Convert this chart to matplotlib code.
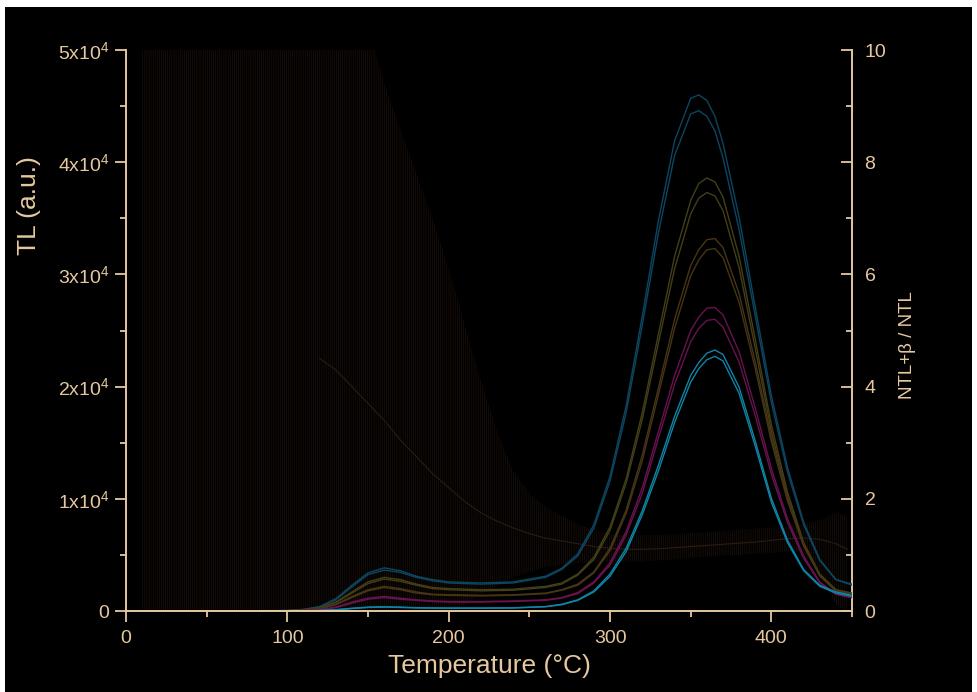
import matplotlib
matplotlib.use("Agg")
import matplotlib.pyplot as plt
import numpy as np
from matplotlib.patches import Rectangle

# temperature grid for the glow curves (°C)
temp = [0, 50, 100, 110, 120, 130, 140, 150, 160, 170, 180, 190, 200, 220, 240,
        260, 270, 280, 290, 300, 310, 320, 330, 340, 350, 355, 360, 365, 370,
        380, 390, 400, 410, 420, 430, 440, 450]

# TL glow curves, two aliquots per dose group (a.u.)
teal_a = [0, 0, 50, 150, 400, 1100, 2300, 3400, 3850, 3600, 3100, 2800, 2600, 2500, 2600,
          3100, 3800, 5100, 7700, 12000, 18300, 26300, 34800, 41900, 45700, 46000, 45500,
          44100, 41700, 35100, 27100, 19200, 12800, 7900, 4600, 2800, 2400]
teal_b = [0, 0, 40, 130, 350, 1000, 2150, 3250, 3650, 3450, 3000, 2700, 2500, 2400, 2500,
          3000, 3700, 4900, 7400, 11600, 17700, 25500, 33700, 40600, 44300, 44600, 44100,
          42800, 40400, 34000, 26300, 18600, 12400, 7700, 4500, 2800, 2300]
olive_a = [0, 0, 30, 100, 300, 800, 1700, 2600, 3000, 2800, 2400, 2100, 2000, 1900, 1950,
           2200, 2500, 3300, 4800, 7500, 11800, 17700, 24700, 31600, 36600, 38100, 38600,
           38250, 36900, 31600, 24200, 16600, 10600, 6100, 3300, 1900, 1600]
olive_b = [0, 0, 25, 90, 270, 750, 1600, 2450, 2850, 2650, 2300, 2000, 1900, 1800, 1850,
           2100, 2400, 3200, 4600, 7200, 11400, 17100, 23900, 30500, 35400, 36800, 37300,
           37000, 35700, 30600, 23400, 16000, 10200, 5900, 3200, 1900, 1500]
brown_a = [0, 0, 20, 80, 200, 600, 1300, 1900, 2200, 2000, 1700, 1500, 1450, 1400, 1450,
           1600, 1900, 2400, 3500, 5600, 9000, 13900, 19900, 26000, 30800, 32200, 33100,
           33200, 32400, 28300, 22200, 15500, 10100, 6000, 3200, 1800, 1400]
brown_b = [0, 0, 15, 70, 180, 550, 1200, 1800, 2100, 1900, 1600, 1450, 1400, 1350, 1400,
           1550, 1850, 2300, 3400, 5400, 8700, 13400, 19300, 25200, 29900, 31300, 32200,
           32300, 31500, 27500, 21600, 15100, 9800, 5800, 3100, 1800, 1400]
magenta_a = [0, 0, 10, 50, 120, 350, 800, 1150, 1300, 1150, 1000, 900, 850, 850, 900,
             1000, 1200, 1650, 2600, 4300, 7100, 11000, 16000, 21000, 25000, 26200, 27000,
             27050, 26400, 23100, 18100, 12700, 8200, 4900, 2600, 1500, 1200]
magenta_b = [0, 0, 10, 40, 100, 300, 700, 1050, 1200, 1050, 950, 850, 800, 800, 850,
             950, 1150, 1550, 2500, 4100, 6800, 10500, 15400, 20200, 24000, 25200, 25900,
             26000, 25300, 22200, 17400, 12200, 7900, 4700, 2500, 1500, 1200]
cyan_a = [0, 0, 0, 20, 50, 120, 250, 350, 380, 350, 300, 280, 270, 270, 290,
          400, 600, 1000, 1800, 3300, 5600, 8950, 13000, 17350, 21000, 22150, 22980,
          23260, 22870, 19940, 15150, 10040, 6300, 3700, 2300, 1700, 1400]
cyan_b = [0, 0, 0, 15, 40, 100, 220, 320, 350, 320, 280, 260, 250, 250, 270,
          380, 560, 950, 1700, 3100, 5300, 8600, 12500, 16800, 20400, 21600, 22400,
          22700, 22300, 19400, 14700, 9700, 6100, 3600, 2200, 1600, 1300]

# NTL+beta / NTL ratio with its error envelope
ratio_t = [10, 20, 30, 40, 50, 60, 70, 80, 90, 100, 110, 120, 130, 140, 150, 160, 170,
           180, 190, 200, 210, 220, 230, 240, 250, 260, 270, 280, 290, 300, 310, 320,
           330, 340, 350, 360, 370, 380, 390, 400, 410, 420, 430, 440, 447]
ratio_mid = [np.nan] * 11 + [4.5, 4.3, 4.0, 3.7, 3.4, 3.05, 2.75, 2.45, 2.2, 1.95, 1.75,
                             1.6, 1.48, 1.38, 1.3, 1.25, 1.2, 1.15, 1.12, 1.1, 1.1, 1.11,
                             1.13, 1.15, 1.17, 1.19, 1.21, 1.23, 1.26, 1.29, 1.3, 1.28,
                             1.2, 1.1]
ratio_hi = [10.5] * 15 + [9.4, 8.6, 7.8, 7.0, 6.1, 5.1, 4.1, 3.2, 2.5, 2.1, 1.85, 1.7,
                          1.55, 1.45, 1.38, 1.35, 1.35, 1.36, 1.37, 1.39, 1.41, 1.43,
                          1.45, 1.47, 1.48, 1.5, 1.55, 1.62, 1.75, 1.7]
ratio_lo = [0] * 20 + [0.1, 0.3, 0.45, 0.6, 0.7, 0.78, 0.82, 0.85, 0.87, 0.88, 0.88, 0.88,
                       0.9, 0.92, 0.95, 0.97, 0.99, 1.0, 1.02, 1.03, 1.06, 1.05, 0.7,
                       0.1, 0]

y_ticks = [0, 10000, 20000, 30000, 40000, 50000]
y_labels = ['0', '1x10$^4$', '2x10$^4$', '3x10$^4$', '4x10$^4$', '5x10$^4$']
x_ticks = [0, 100, 200, 300, 400]
r_ticks = [0, 2, 4, 6, 8, 10]

tan = '#e6c8a0'
plt.rcParams['font.family'] = ['Liberation Sans', 'DejaVu Sans']
plt.rcParams['mathtext.fontset'] = 'custom'
plt.rcParams['mathtext.rm'] = 'Liberation Sans'
plt.rcParams['mathtext.it'] = 'Liberation Sans:italic'
plt.rcParams['hatch.linewidth'] = 0.45

fig = plt.figure(figsize=(9.77, 6.92), dpi=100, facecolor='white')
fig.add_artist(Rectangle((5 / 977, 0), 967 / 977, 685 / 692, transform=fig.transFigure,
                         facecolor='black', edgecolor='none', zorder=-10))

ax = fig.add_axes([0.129, 0.117, 0.7431, 0.8107])
ax2 = ax.twinx()
ax.set_zorder(2)
ax2.set_zorder(1)
ax.patch.set_visible(False)
ax2.patch.set_visible(False)

# ratio on the right axis, drawn behind the glow curves
ax2.fill_between(ratio_t, ratio_lo, ratio_hi, facecolor='none', edgecolor='#1f130d',
                 hatch='||||||||', linewidth=0)
ax2.plot(ratio_t, ratio_mid, color='#2a1c15', lw=0.8)

groups = [(teal_a, teal_b, '#0c4660'), (olive_a, olive_b, '#433f18'),
          (brown_a, brown_b, '#473515'), (magenta_a, magenta_b, '#68134e'),
          (cyan_a, cyan_b, '#0f84a6')]
for a, b, c in groups:
    ax.plot(temp, a, color=c, lw=1.0)
    ax.plot(temp, b, color=c, lw=1.0)

ax.set_xlim(0, 450)
ax.set_ylim(0, 50000)
ax2.set_ylim(0, 10)

ax.set_xticks(x_ticks)
ax.set_xticks(range(50, 451, 100), minor=True)
ax.set_yticks(y_ticks, y_labels)
ax.set_yticks(range(5000, 50000, 10000), minor=True)
ax2.set_yticks(r_ticks)
ax2.set_yticks(range(1, 10, 2), minor=True)

for s in ['top', 'right']:
    ax.spines[s].set_visible(False)
for s in ['left', 'bottom']:
    ax.spines[s].set_color(tan)
    ax.spines[s].set_linewidth(1.4)
for s in ['top', 'left', 'bottom']:
    ax2.spines[s].set_visible(False)
ax2.spines['right'].set_color(tan)
ax2.spines['right'].set_linewidth(1.4)

ax.tick_params(which='major', direction='out', length=8, width=1.3, colors=tan,
               labelsize=14, pad=4)
ax.tick_params(which='minor', direction='out', length=4.5, width=1.3, colors=tan)
ax.tick_params(axis='x', which='major', pad=6)
ax2.tick_params(which='major', direction='in', length=8, width=1.3, colors=tan,
                labelsize=14, pad=9)
ax2.tick_params(which='minor', direction='in', length=4.5, width=1.3, colors=tan)

ax.set_xlabel('Temperature (°C)', fontsize=19, color=tan)
ax.xaxis.set_label_coords(0.501, -0.077)
ax.set_ylabel('TL (a.u.)', fontsize=19, color=tan)
ax.yaxis.set_label_coords(-0.117, 0.722)
ax2.set_ylabel('NTL+β / NTL', fontsize=13.5, color=tan)
ax2.yaxis.set_label_coords(1.065, 0.474)

fig.savefig('out.png', dpi=100, facecolor=fig.get_facecolor())
